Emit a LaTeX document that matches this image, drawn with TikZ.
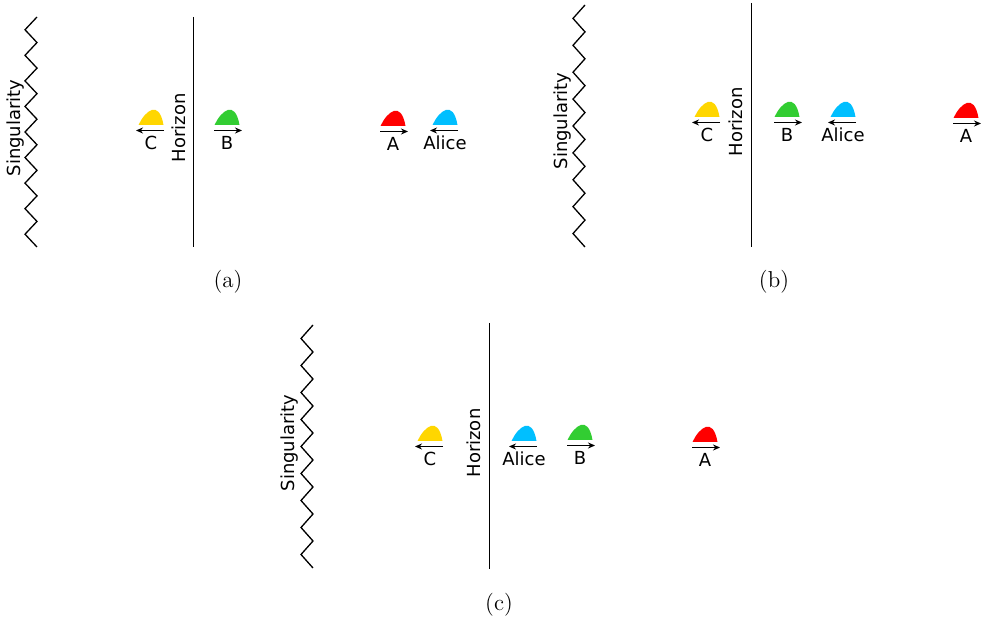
\documentclass[tikz,border=0pt]{standalone}
\usepackage{fontspec}
\setsansfont{DejaVu Sans}
\usetikzlibrary{arrows.meta, positioning}

\definecolor{packetyellow}{RGB}{255,214,0}
\definecolor{packetgreen}{RGB}{50,205,50}
\definecolor{packetred}{RGB}{255,0,0}
\definecolor{packetblue}{RGB}{0,191,255}

% packet: name, colour, centre x, base y, direction (1 or -1), label
\newcommand{\packet}[6]{%
    \fill[#2] (#3-12.5,#4) .. controls (#3-6,#4-14) and (#3+8,#4-26) .. (#3+12.5,#4) -- cycle;
    \coordinate (#1-s) at ({#3-(#5)*13},#4+5.5);
    \coordinate (#1-e) at ({#3+(#5)*15},#4+5.5);
    \draw[motion] (#1-s) -- (#1-e);
    \node[tag, anchor=base] (#1) at (#3,#4+25) {#6};
}

% singularity: x of right tips, top y, bottom y
\newcommand{\singularity}[3]{%
    \draw[wall] (#1,#2) \foreach \i in {1,...,18} { -- ({#1-12*mod(\i,2)},{#2+\i*(#3-#2)/18}) };
}

\begin{document}
\begin{tikzpicture}[
    x=0.5pt, y=-0.5pt,
    wall/.style={line width=0.65pt, line join=miter},
    horizon/.style={line width=0.45pt},
    motion/.style={-{Stealth[length=3.5pt, width=3pt]}, line width=0.5pt},
    tag/.style={font=\sffamily\fontsize{9}{10}\selectfont, inner sep=0pt},
    caption/.style={font=\fontsize{11.5}{13}\selectfont}
]
\useasboundingbox (0,0) rectangle (981,619);

% Panel (a)
\singularity{37}{17}{247}
\node[tag, rotate=90] (sing-a) at (16,128) {Singularity};
\coordinate (hor-a-top) at (193,17);
\coordinate (hor-a-bot) at (193,247);
\draw[horizon] (hor-a-top) -- (hor-a-bot);
\node[tag, rotate=90] (hor-a) at (179,128) {Horizon};
\packet{c-a}{packetyellow}{151}{125}{-1}{C}
\packet{b-a}{packetgreen}{227}{125}{1}{B}
\packet{a-a}{packetred}{393}{126}{1}{A}
\packet{alice-a}{packetblue}{445}{125}{-1}{Alice}
\node[caption] (cap-a) at (228,282) {(a)};

% Panel (b)
\singularity{585}{5}{247}
\node[tag, rotate=90] (sing-b) at (563,121) {Singularity};
\coordinate (hor-b-top) at (751,3);
\coordinate (hor-b-bot) at (751,247);
\draw[horizon] (hor-b-top) -- (hor-b-bot);
\node[tag, rotate=90] (hor-b) at (736,122) {Horizon};
\packet{c-b}{packetyellow}{707}{117}{-1}{C}
\packet{b-b}{packetgreen}{787}{117}{1}{B}
\packet{alice-b}{packetblue}{843}{117}{-1}{Alice}
\packet{a-b}{packetred}{966}{118}{1}{A}
\node[caption] (cap-b) at (774,282) {(b)};

% Panel (c)
\singularity{313}{325}{568}
\node[tag, rotate=90] (sing-c) at (290,443) {Singularity};
\coordinate (hor-c-top) at (489,323);
\coordinate (hor-c-bot) at (489,569);
\draw[horizon] (hor-c-top) -- (hor-c-bot);
\node[tag, rotate=90] (hor-c) at (474,443) {Horizon};
\packet{c-c}{packetyellow}{430}{441}{-1}{C}
\packet{alice-c}{packetblue}{524}{441}{-1}{Alice}
\packet{b-c}{packetgreen}{580}{440}{1}{B}
\packet{a-c}{packetred}{705}{442}{1}{A}
\node[caption] (cap-c) at (499,605) {(c)};

\end{tikzpicture}
\end{document}
